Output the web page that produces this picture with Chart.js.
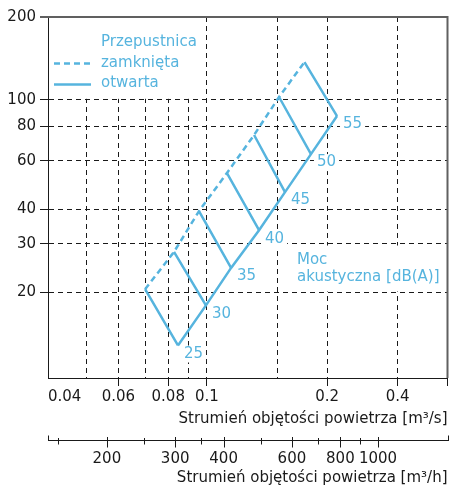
<!DOCTYPE html>
<html>
<head>
<meta charset="utf-8">
<script src="https://cdn.jsdelivr.net/npm/chart.js@4"></script>
<style>
body{margin:0;background:#fff}
</style>
</head>
<body>
<canvas id="myChart" width="458" height="491"></canvas>
<script>
// poziomy mocy akustycznej [dB(A)]
let levels = [25, 30, 35, 40, 45, 50, 55]
// przepustnica zamknięta
let closedX = [0.0700, 0.0827, 0.0955, 0.1122, 0.1312, 0.1515, 0.1754]
let closedY = [20.5, 28.0, 39.4, 54.2, 74.5, 102.4, 137.2]
// przepustnica otwarta
let openX = [0.0846, 0.0994, 0.1149, 0.1350, 0.1568, 0.1821, 0.2116]
let openY = [12.8, 17.9, 24.5, 33.6, 46.2, 63.5, 87.3]

// osie
let xTicks = [0.04, 0.05, 0.06, 0.07, 0.08, 0.09, 0.1, 0.15, 0.2, 0.3, 0.4]
let xLabels = ['0.04', '', '0.06', '', '0.08', '', '0.1', '', '0.2', '0.4', '']
let x2Ticks = [141, 150, 200, 250, 300, 350, 400, 500, 600, 700, 800, 900, 1000, 1511]
let x2Labels = ['', '', '200', '', '300', '', '400', '', '600', '', '800', '', '1000', '']
let yTicks = [20, 30, 40, 60, 80, 100, 200]

const blue = '#56b4de'
const ink = '#1a1a1a'
const frame = '#606060'
const none = 'rgba(0,0,0,0)'
const fnt = '15px "DejaVu Sans", sans-serif'
Chart.defaults.font.family = '"DejaVu Sans", sans-serif'
Chart.defaults.font.size = 15
Chart.defaults.color = ink

function points(xs, ys) {
    return xs.map((x, i) => ({x: x, y: ys[i]}))
}
// odcinki stałej mocy akustycznej
function rungs() {
    let p = []
    for (let i in levels) {
        p.push({x: closedX[i], y: closedY[i]}, {x: openX[i], y: openY[i]}, {x: openX[i], y: null})
    }
    return p
}

const extras = {
    id: 'extras',
    beforeDatasetsDraw(chart) {
        const {ctx, chartArea: a, scales} = chart
        ctx.save()
        ctx.fillStyle = '#fff'
        // tło legendy
        ctx.fillRect(a.left + 1, a.top + 1, scales.x.getPixelForValue(0.1) - a.left - 3, scales.y.getPixelForValue(100) - a.top - 2)
        // tło etykiet
        ctx.font = fnt
        chart.getDatasetMeta(1).data.forEach((pt, i) => {
            const w = ctx.measureText(String(levels[i])).width
            ctx.fillRect(pt.x + 3, pt.y, w + 6, 17)
        })
        ctx.fillRect(293, 245.5, 150, 46)
        // ramka
        ctx.strokeStyle = frame
        ctx.lineWidth = 2
        ctx.beginPath()
        ctx.moveTo(a.left - 8, a.top)
        ctx.lineTo(a.right, a.top)
        ctx.lineTo(a.right, a.bottom)
        ctx.stroke()
        ctx.restore()
    },
    afterDatasetsDraw(chart) {
        const {ctx} = chart
        ctx.save()
        ctx.font = fnt
        ctx.fillStyle = blue
        ctx.textBaseline = 'middle'
        // etykiety poziomów
        chart.getDatasetMeta(1).data.forEach((pt, i) => {
            ctx.fillText(String(levels[i]), pt.x + 6, pt.y + 8.5)
        })
        ctx.textBaseline = 'alphabetic'
        ctx.fillText('Moc', 297, 263.5)
        ctx.fillText('akustyczna [dB(A)]', 297, 281)
        // legenda
        ctx.fillText('Przepustnica', 101, 46)
        ctx.fillText('zamknięta', 101, 66.5)
        ctx.fillText('otwarta', 101, 87)
        ctx.strokeStyle = blue
        ctx.lineWidth = 2.5
        ctx.setLineDash([6, 4])
        ctx.beginPath()
        ctx.moveTo(54, 63.5)
        ctx.lineTo(91, 63.5)
        ctx.stroke()
        ctx.setLineDash([])
        ctx.beginPath()
        ctx.moveTo(54, 84.5)
        ctx.lineTo(91, 84.5)
        ctx.stroke()
        ctx.restore()
    },
    afterDraw(chart) {
        // kreski osi m3/h
        const {ctx} = chart
        const s = chart.scales.x2
        const y0 = s.top + 0.5
        ctx.save()
        ctx.strokeStyle = ink
        ctx.lineWidth = 1
        s.ticks.forEach((t, i) => {
            const px = Math.round(s.getPixelForValue(t.value)) + 0.5
            let up = 3, down = 3.5
            if (x2Labels[i]) { up = 4; down = 6.5 }
            if (i == 0 || i == x2Ticks.length - 1) { up = 5.5; down = 0 }
            ctx.beginPath()
            ctx.moveTo(px, y0 - up)
            ctx.lineTo(px, y0 + down)
            ctx.stroke()
        })
        ctx.restore()
    }
}

const ctx = document.getElementById('myChart').getContext('2d')
const myChart = new Chart(ctx, {
    type: 'line',
    data: {
        datasets: [{
            label: 'zamknięta',
            data: points(closedX, closedY),
            borderColor: blue,
            borderWidth: 2.5,
            borderDash: [6, 4],
            pointRadius: 0
        }, {
            label: 'otwarta',
            data: points(openX, openY),
            borderColor: blue,
            borderWidth: 2.5,
            pointRadius: 0
        }, {
            label: 'poziomy',
            data: rungs(),
            borderColor: blue,
            borderWidth: 2.5,
            pointRadius: 0,
            spanGaps: false
        }]
    },
    options: {
        responsive: false,
        animation: false,
        events: [],
        layout: {padding: {top: 17, right: 10.5, left: 0, bottom: 0}},
        plugins: {legend: {display: false}, tooltip: {enabled: false}},
        scales: {
            x: {
                type: 'logarithmic',
                position: 'bottom',
                weight: 0,
                min: 0.04,
                max: 0.4,
                afterBuildTicks: s => { s.ticks = xTicks.map(v => ({value: v})) },
                afterFit: s => { s.height = 62.5 },
                ticks: {autoSkip: false, maxRotation: 0, padding: 2, align: 'inner', callback: (v, i) => xLabels[i]},
                grid: {
                    color: c => (c.index > 0 && c.index < xTicks.length - 1) ? ink : none,
                    tickColor: c => (xLabels[c.index] && c.index > 0) || c.index == xTicks.length - 1 ? ink : none,
                    tickLength: 8,
                    tickBorderDash: [],
                    lineWidth: 1
                },
                border: {color: ink, width: 1, dash: [5, 4]},
                title: {display: true, text: 'Strumień objętości powietrza [m³/s]', align: 'end', padding: {top: 0, bottom: 12}}
            },
            x2: {
                type: 'logarithmic',
                position: 'bottom',
                weight: 1,
                min: 141,
                max: 1511,
                afterBuildTicks: s => { s.ticks = x2Ticks.map(v => ({value: v})) },
                afterFit: s => { s.height = 50.5 },
                ticks: {autoSkip: false, maxRotation: 0, padding: 4, callback: (v, i) => x2Labels[i]},
                grid: {drawOnChartArea: false, color: none, tickLength: 6},
                border: {color: ink, width: 1},
                title: {display: true, text: 'Strumień objętości powietrza [m³/h]', align: 'end', padding: {top: 0, bottom: 4}}
            },
            y: {
                type: 'logarithmic',
                min: 9.75,
                max: 200,
                afterBuildTicks: s => { s.ticks = yTicks.map(v => ({value: v})) },
                afterFit: s => { s.width = 48 },
                ticks: {autoSkip: false, padding: 4, callback: (v, i) => String(yTicks[i])},
                grid: {
                    color: c => c.index < yTicks.length - 1 ? ink : none,
                    tickLength: 8,
                    tickBorderDash: [],
                    lineWidth: 1
                },
                border: {color: ink, width: 1, dash: [5, 4]}
            }
        }
    },
    plugins: [extras]
})
</script>
</body>
</html>
